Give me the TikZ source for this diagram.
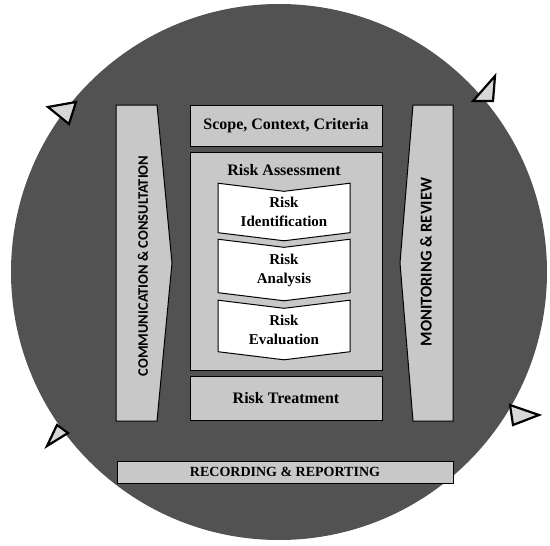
\documentclass[tikz,border=0pt]{standalone}
\usepackage{fontspec}
\setmainfont{Liberation Serif}
\newfontfamily\capsfont{Carlito}
\usetikzlibrary{shapes.symbols, positioning}
\definecolor{ringgray}{RGB}{82,82,82}
\definecolor{panelgray}{RGB}{200,200,200}
\definecolor{tipgray}{RGB}{215,215,215}

\begin{document}
\begin{tikzpicture}[
        x=1pt, y=-1pt,
        panel/.style={rectangle, draw=black, line width=1pt, fill=panelgray, inner sep=0pt, align=center, font=\bfseries\fontsize{16}{18}\selectfont},
        stage/.style={signal, signal from=north, signal to=south, signal pointer angle=166, draw=black, line width=1pt, fill=white, inner sep=0pt, minimum width=132pt, minimum height=52pt, align=center, font=\bfseries\fontsize{15}{19}\selectfont},
        side/.style={draw=black, line width=1pt, fill=panelgray},
        sidetext/.style={rotate=90, font=\capsfont\bfseries\fontsize{14.5}{16}\selectfont},
        tip/.style={draw=black, fill=tipgray, line width=2.2pt, line join=miter}
    ]
        \useasboundingbox (0,0) rectangle (550,546);
        \fill[ringgray] (279,272) circle (268);

        % side panels
        \draw[side] (116,105) -- (157,105) -- (172,263) -- (157,421) -- (116,421) -- cycle;
        \draw[side] (413,105) -- (453,105) -- (453,421) -- (413,421) -- (400,263) -- cycle;
        \node[sidetext] (comm) at (143,266) {COMMUNICATION \& CONSULTATION};
        \node[sidetext, font=\capsfont\bfseries\fontsize{16.5}{18}\selectfont] (monitor) at (426,262) {MONITORING \& REVIEW};

        % centre column
        \node[panel, minimum width=192pt, minimum height=41pt] (scope) at (286,125.5) {Scope, Context, Criteria};
        \node[panel, minimum width=192pt, minimum height=218pt] (assess) at (286,261) {};
        \node[font=\bfseries\fontsize{16}{18}\selectfont] (assesslabel) at (284,170) {Risk Assessment};
        \node[stage] (ident) at (284,212) {Risk\\Identification};
        \node[stage] (analysis) at (284,270) {Risk\\Analysis};
        \node[stage] (evaluation) at (284,330) {Risk\\Evaluation};
        \node[panel, minimum width=192pt, minimum height=44pt] (treat) at (286,398) {Risk Treatment};

        % bottom bar
        \node[panel, minimum width=336pt, minimum height=22pt, font=\bfseries\fontsize{14}{16}\selectfont] (record) at (285,472) {RECORDING \& REPORTING};

        % arrow tips on the ring
        \draw[tip] (48,107) -- (76,102) -- (69,124) -- cycle;
        \draw[tip] (473,101) -- (495,76) -- (493,101) -- cycle;
        \draw[tip] (510,405) -- (539,415) -- (513,425) -- cycle;
        \draw[tip] (47,446) -- (57,425) -- (68,433) -- cycle;
    \end{tikzpicture}
\end{document}
